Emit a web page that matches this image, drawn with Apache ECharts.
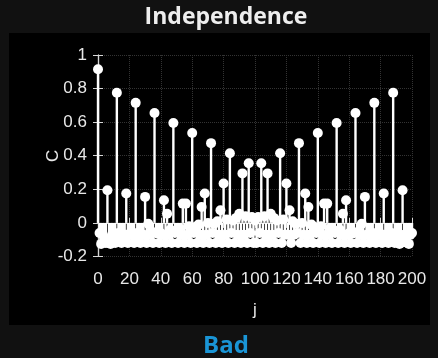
<!DOCTYPE html>
<html>
<head>
<meta charset="utf-8">
<script src="https://cdn.jsdelivr.net/npm/echarts@6/dist/echarts.min.js"></script>
<style>
  html, body { margin: 0; padding: 0; background: #111111; }
  #chart { width: 438px; height: 358px; }
</style>
</head>
<body>
<div id="chart"></div>
<script>
// lag j = 0..200
const lags = [];
for (let j = 0; j <= 200; j++) lags.push(j);

// correlation C(j)
const corr = [
  0.915, -0.06, -0.125, -0.07, -0.09, -0.12, 0.195, -0.12, -0.125, -0.07,
  -0.07, -0.12, 0.775, -0.06, -0.105, -0.12, -0.08, -0.07, 0.175, -0.12,
  -0.065, -0.07, -0.06, -0.12, 0.715, -0.06, -0.085, -0.12, -0.07, -0.07,
  0.155, -0.12, -0.005, -0.07, -0.05, -0.12, 0.655, -0.06, -0.065, -0.12,
  -0.06, -0.07, 0.135, -0.12, 0.055, -0.07, -0.04, -0.12, 0.595, -0.06,
  -0.045, -0.12, -0.03, -0.07, 0.115, -0.12, 0.115, -0.07, -0.02, -0.12,
  0.535, -0.06, -0.025, -0.12, -0.01, -0.07, 0.095, -0.12, 0.175, -0.07,
  0.0, -0.12, 0.475, -0.06, -0.005, -0.12, 0.01, -0.07, 0.075, -0.12,
  0.235, -0.07, 0.02, -0.12, 0.415, -0.06, 0.015, -0.12, 0.03, -0.07,
  0.055, -0.12, 0.295, -0.07, 0.04, -0.12, 0.355, -0.06, 0.035, -0.12,
  0.015, -0.12, 0.035, -0.06, 0.355, -0.12, 0.04, -0.07, 0.295, -0.12,
  0.055, -0.07, 0.03, -0.12, 0.015, -0.06, 0.415, -0.12, 0.02, -0.07,
  0.235, -0.07, 0.075, -0.12, 0.01, -0.07, -0.005, -0.06, 0.475, -0.12,
  0.0, -0.07, 0.175, -0.12, 0.095, -0.07, -0.01, -0.12, -0.025, -0.06,
  0.535, -0.12, -0.02, -0.07, 0.115, -0.12, 0.115, -0.07, -0.03, -0.12,
  -0.045, -0.06, 0.595, -0.12, -0.04, -0.07, 0.055, -0.12, 0.135, -0.07,
  -0.06, -0.12, -0.065, -0.06, 0.655, -0.12, -0.05, -0.07, -0.005, -0.12,
  0.155, -0.07, -0.07, -0.12, -0.085, -0.06, 0.715, -0.12, -0.06, -0.07,
  -0.065, -0.12, 0.175, -0.07, -0.08, -0.12, -0.105, -0.06, 0.775, -0.12,
  -0.07, -0.07, -0.125, -0.12, 0.195, -0.07, -0.09, -0.12, -0.125, -0.07,
  -0.06
];

const xTicks = [0, 20, 40, 60, 80, 100, 120, 140, 160, 180, 200];
const yTicks = [-0.2, 0, 0.2, 0.4, 0.6, 0.8, 1];

const points = lags.map((j, i) => [j, corr[i]]);

const chart = echarts.init(document.getElementById('chart'));

const boxLine = { show: true, lineStyle: { color: '#d6d6d6', width: 1.2 } };
const tickIn = { show: true, inside: true, length: 5, lineStyle: { color: '#d6d6d6', width: 1 } };
const labelStyle = { color: '#e8e8e8', fontSize: 17, fontFamily: 'Liberation Sans, Arial, sans-serif' };

chart.setOption({
  backgroundColor: '#111111',
  animation: false,
  graphic: [{
    type: 'rect',
    shape: { x: 9, y: 33, width: 421, height: 292 },
    style: { fill: '#000000' },
    z: -10
  }, {
    type: 'text',
    x: 226,
    y: 17,
    style: {
      text: 'Independence',
      fill: '#eeeeee',
      font: 'bold 23px "Open Sans", sans-serif',
      textAlign: 'center',
      textVerticalAlign: 'middle'
    }
  }, {
    type: 'text',
    x: 226,
    y: 346,
    style: {
      text: 'Bad',
      fill: '#1a95d6',
      font: 'bold 24px "Open Sans", sans-serif',
      textAlign: 'center',
      textVerticalAlign: 'middle'
    }
  }],
  grid: { left: 98, right: 26, top: 55, bottom: 101.5 },
  xAxis: [{
    type: 'value',
    min: xTicks[0],
    max: xTicks[xTicks.length - 1],
    interval: 20,
    position: 'bottom',
    axisLine: boxLine,
    axisTick: tickIn,
    axisLabel: Object.assign({ margin: 14 }, labelStyle),
    splitLine: { show: true, lineStyle: { color: '#333333', type: 'dotted', width: 1 } },
    name: 'j',
    nameLocation: 'middle',
    nameGap: 45,
    nameMoveOverlap: false,
    nameTextStyle: labelStyle
  }, {
    type: 'value',
    min: xTicks[0],
    max: xTicks[xTicks.length - 1],
    interval: 20,
    position: 'top',
    axisLine: boxLine,
    axisTick: tickIn,
    axisLabel: { show: false },
    splitLine: { show: false }
  }],
  yAxis: [{
    type: 'value',
    min: yTicks[0],
    max: yTicks[yTicks.length - 1],
    interval: 0.2,
    position: 'left',
    axisLine: boxLine,
    axisTick: tickIn,
    axisLabel: Object.assign({ margin: 11 }, labelStyle),
    splitLine: { show: true, lineStyle: { color: '#333333', type: 'dotted', width: 1 } },
    name: 'C',
    nameLocation: 'middle',
    nameGap: 36,
    nameRotate: 90,
    nameMoveOverlap: false,
    nameTextStyle: labelStyle
  }, {
    type: 'value',
    min: yTicks[0],
    max: yTicks[yTicks.length - 1],
    interval: 0.2,
    position: 'right',
    axisLine: boxLine,
    axisTick: tickIn,
    axisLabel: { show: false },
    splitLine: { show: false }
  }],
  series: [{
    // stems
    type: 'bar',
    data: points,
    barWidth: 2.4,
    itemStyle: { color: '#ffffff' },
    z: 3
  }, {
    // markers
    type: 'scatter',
    data: points,
    symbol: 'circle',
    symbolSize: 10,
    clip: false,
    itemStyle: { color: '#ffffff', opacity: 1 },
    z: 4
  }]
});

window.addEventListener('resize', () => chart.resize());
</script>
</body>
</html>
